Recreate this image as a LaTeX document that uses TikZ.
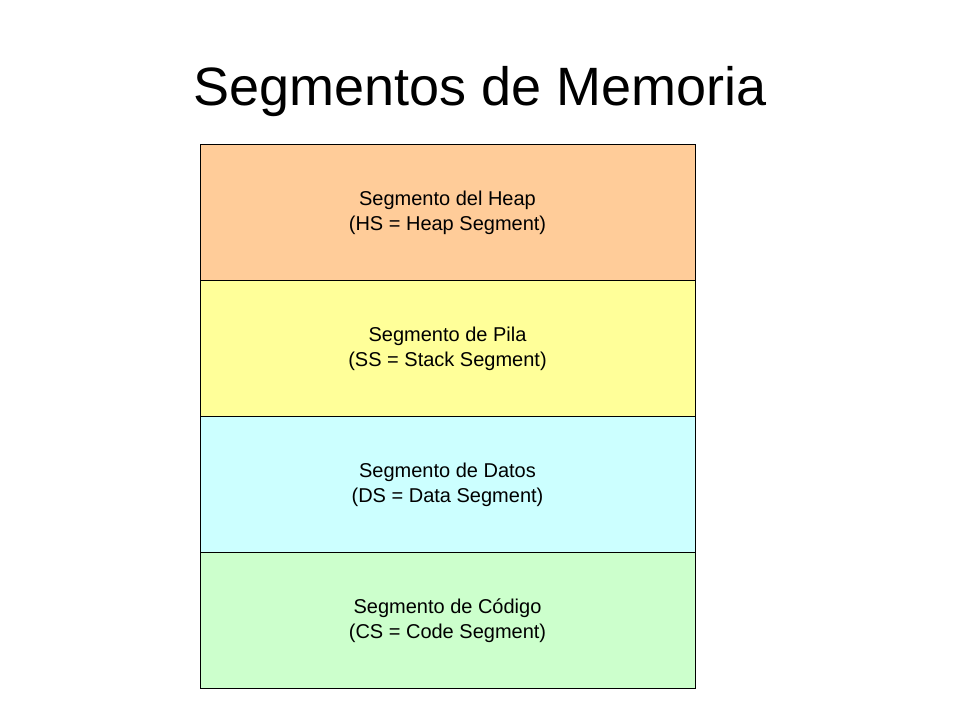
\documentclass[tikz,border=0pt]{standalone}
\usepackage{fontspec}
\setmainfont{Liberation Sans}
\definecolor{heap}{HTML}{FFCC99}
\definecolor{pila}{HTML}{FFFF99}
\definecolor{datos}{HTML}{CCFFFF}
\definecolor{codigo}{HTML}{CCFFCC}
\begin{document}
\begin{tikzpicture}[x=1pt,y=-1pt,
 seg/.style={draw=black,line width=0.8pt,minimum width=495pt,minimum height=136pt,align=center,font=\fontsize{20}{25}\selectfont,inner sep=0pt}]
\useasboundingbox (0,0) rectangle (960,720);
\node (title) at (480,92) {\fontsize{54}{60}\selectfont Segmentos de Memoria};
\node[seg,fill=heap] (hs) at (447.5,212.5) {Segmento del Heap\\(HS = Heap Segment)};
\node[seg,fill=pila] (ss) at (447.5,348.5) {Segmento de Pila\\(SS = Stack Segment)};
\node[seg,fill=datos] (ds) at (447.5,484.5) {Segmento de Datos\\(DS = Data Segment)};
\node[seg,fill=codigo] (cs) at (447.5,620.5) {Segmento de Código\\(CS = Code Segment)};
\end{tikzpicture}
\end{document}
